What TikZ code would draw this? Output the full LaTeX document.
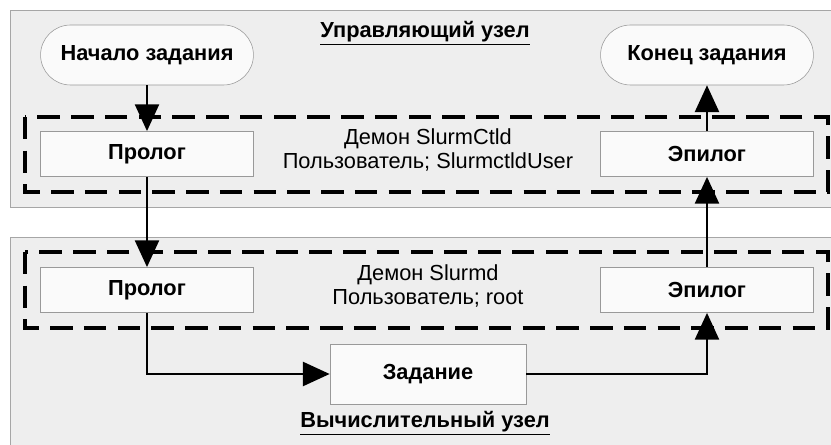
\documentclass[tikz,border=0pt]{standalone}
\usepackage{fontspec}
\setmainfont{Liberation Sans}
\usetikzlibrary{arrows,arrows.meta,shapes,calc}
\usepackage[dvipsnames]{xcolor}
\definecolor{panelgray}{HTML}{EEEEEE}
\definecolor{boxwhite}{HTML}{FAFAFA}

\begin{document}
\begin{tikzpicture}[x=0.025cm,y=-0.025cm,
            panel/.style = {draw=gray!70, fill=panelgray, line width=0.5pt},
            daemon/.style = {draw, line width=2.3pt, dash pattern=on 16pt off 8pt},
            stepbox/.style = {draw=gray!80, fill=boxwhite, font=\bfseries\fontsize{15.5}{18}\selectfont,
                minimum width=5.32cm, minimum height=1.13cm, inner sep=0pt},
            terminal/.style = {stepbox, rounded corners=0.75cm, minimum height=1.5cm},
            flow/.style = {-{Triangle[width=17pt,length=19pt]}, line width=1.8pt},
            title/.style = {font=\bfseries\fontsize{15.5}{18}\selectfont},
            note/.style = {font=\fontsize{15.5}{17}\selectfont, align=center}
            ]
            \useasboundingbox (0,0) rectangle (831,445);
            % node panels
            \draw[panel] (10,10) rectangle (840,207);
            \draw[panel] (10,237) rectangle (840,455);
            \draw[daemon] (25,117) rectangle (828,192);
            \draw[daemon] (25,252) rectangle (828,328);

            \node[title] (ctrl) at (425,33) {\underline{Управляющий узел}};
            \node[title] (comp) at (425,423) {\underline{Вычислительный узел}};

            \node[terminal] (start) at (147,55) {Начало задания};
            \node[terminal] (finish) at (707,55) {Конец задания};

            \node[stepbox] (prolog1) at (147,154) {Пролог};
            \node[stepbox] (epilog1) at (707,154) {Эпилог};
            \node[note] (ctld) at (428,150) {Демон SlurmCtld\\Пользователь; SlurmctldUser};

            \node[stepbox] (prolog2) at (147,290) {Пролог};
            \node[stepbox] (epilog2) at (707,290) {Эпилог};
            \node[note] (slurmd) at (428,286) {Демон Slurmd\\Пользователь; root};

            \node[stepbox, minimum width=4.9cm, minimum height=1.5cm] (job) at (428,374) {Задание};

            \draw[flow] (start) -- (prolog1);
            \draw[flow] (prolog1) -- (prolog2);
            \draw[flow] (prolog2.south) |- (job.west);
            \draw[flow] (job.east) -| (epilog2.south);
            \draw[flow] (epilog2) -- (epilog1);
            \draw[flow] (epilog1) -- (finish);
\end{tikzpicture}
\end{document}
